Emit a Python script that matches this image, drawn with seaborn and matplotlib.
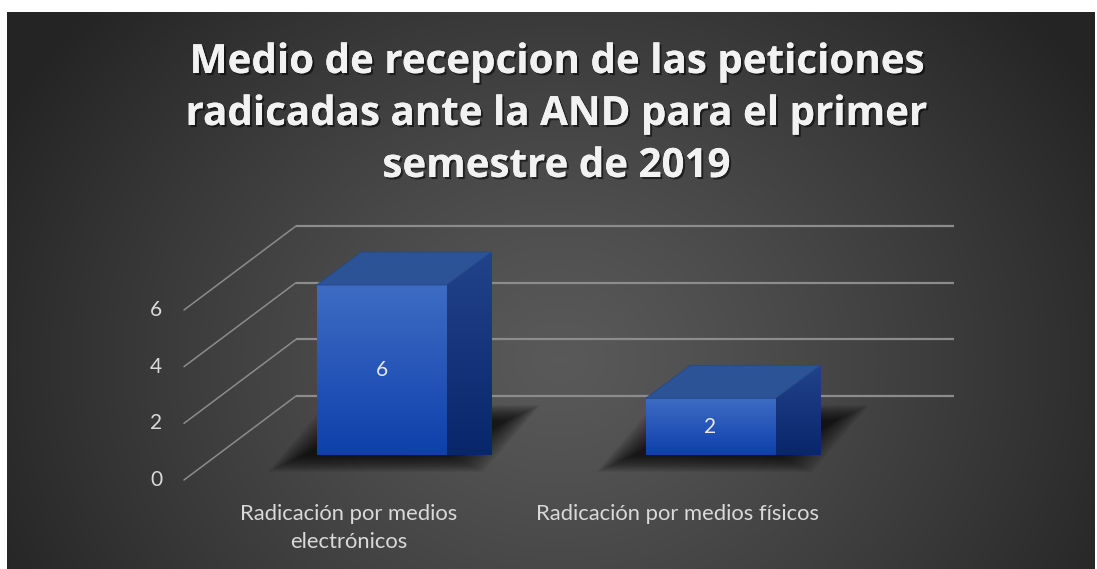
import numpy as np
import pandas as pd
import matplotlib
matplotlib.use("Agg")
import matplotlib.pyplot as plt
import seaborn as sns
from matplotlib.patches import Polygon
import matplotlib.patheffects as pe

# ---------------- data ----------------
categories = ["Radicación por medios\nelectrónicos", "Radicación por medios físicos"]
values = [6, 2]
y_ticks = [0, 2, 4, 6]
title_lines = ["Medio de recepcion de las peticiones",
               "radicadas ante la AND para el primer",
               "semestre de 2019"]

# ---------------- layout constants (pixels) ----------------
W, H = 1097, 569
SX = 329.0          # px per category unit (bar plane)
SY = 170.0 / 6.0    # px per value unit (bar plane)
BAR_DX, BAR_DY = 45 / SX, 33 / SY        # bar depth
FRONT_DX, FRONT_DY = -33 / SX, -25 / SY  # front edge of floor
BACK_DX, BACK_DY = 79 / SX, 59 / SY      # back wall

sns.set_theme(style="dark")
plt.rcParams['font.family'] = ['Open Sans', 'DejaVu Sans']
LABEL_FONT = ['Lato', 'DejaVu Sans']

fig = plt.figure(figsize=(W / 100, H / 100), dpi=100)
fig.patch.set_facecolor('white')

# ---------------- background gradient ----------------
bg = fig.add_axes([0, 0, 1, 1])
bx0, bx1, by0, by1 = 7, 1095, 12, 569
xx, yy = np.meshgrid(np.arange(bx0, bx1) + 0.5, np.arange(by0, by1) + 0.5)
r = np.hypot((xx - 560) / 1.0, (yy - 360) / 0.85)
t = np.clip(r / 620, 0, 1) ** 1.2
v = 0.35 - (0.35 - 0.145) * t
bg.imshow(np.dstack([v, v, v]), extent=(bx0, bx1, by1, by0),
          interpolation='bilinear', aspect='auto', zorder=0)
bg.set_xlim(0, W)
bg.set_ylim(H, 0)
bg.axis('off')

# ---------------- main axes in the bar plane ----------------
ax = fig.add_axes([217 / W, (H - 455) / H, 658 / W, 170 / H])
ax.patch.set_alpha(0)
df = pd.DataFrame({"cat": categories, "val": values})
sns.barplot(data=df, x="cat", y="val", width=130 / SX, color="#2a5bbf",
            ax=ax, zorder=6)

grid_col = "#8c8c8c"
for tv in y_ticks:
    # back wall line
    ax.plot([-0.5 + BACK_DX, 1.5 + BACK_DX], [tv + BACK_DY, tv + BACK_DY],
            color=grid_col, lw=1.6, zorder=1, clip_on=False, solid_capstyle='butt')
    # left wall diagonal
    ax.plot([-0.5 + FRONT_DX, -0.5 + BACK_DX], [tv + FRONT_DY, tv + BACK_DY],
            color=grid_col, lw=1.1, zorder=1, clip_on=False)
    ax.text(-0.5 + FRONT_DX - 28 / SX, tv + FRONT_DY, str(tv), ha='center',
            va='center', fontsize=15, color='#d9d9d9', family=LABEL_FONT)

front_grad = np.linspace(0, 1, 200)[:, None]
def vgrad(c_top, c_bot):
    c_top = np.array(c_top) / 255.0
    c_bot = np.array(c_bot) / 255.0
    g = c_top[None, None, :] * (1 - front_grad[:, :, None]) + c_bot[None, None, :] * front_grad[:, :, None]
    return np.repeat(g, 2, axis=1)

bars = list(ax.patches)
for p, val in zip(bars, values):
    x0 = p.get_x()
    w = p.get_width()
    h = p.get_height()
    x1 = x0 + w
    # floor shadow (blurred footprint)
    for k in range(14, 0, -1):
        e = k * 2.6 / SX
        ey = k * 1.2 / SY
        shadow = Polygon([(x0 - e - 12 / SX, -ey), (x1 + e, -ey),
                          (x1 + BAR_DX + e + 12 / SX, BAR_DY + ey),
                          (x0 + BAR_DX - e, BAR_DY + ey)],
                         closed=True, facecolor='black', edgecolor='none',
                         alpha=0.075, zorder=3, clip_on=False)
        ax.add_patch(shadow)
    # front face gradient
    im = ax.imshow(vgrad((62, 108, 196), (14, 64, 172)), extent=(x0, x1, 0, h),
                   aspect='auto', interpolation='bilinear', zorder=7)
    im.set_clip_path(p)
    # side face
    side = Polygon([(x1, 0), (x1 + BAR_DX, BAR_DY), (x1 + BAR_DX, h + BAR_DY), (x1, h)],
                   closed=True, facecolor='#16357a', edgecolor='#0f2a66', lw=0.6,
                   zorder=6, clip_on=False)
    ax.add_patch(side)
    ims = ax.imshow(vgrad((34, 66, 138), (8, 38, 108)),
                    extent=(x1, x1 + BAR_DX, 0, h + BAR_DY),
                    aspect='auto', interpolation='bilinear', zorder=7, clip_on=False)
    ims.set_clip_path(side)
    # top face
    top = Polygon([(x0, h), (x1, h), (x1 + BAR_DX, h + BAR_DY), (x0 + BAR_DX, h + BAR_DY)],
                  closed=True, facecolor='#2c5396', edgecolor='#24498c', lw=0.6,
                  zorder=8, clip_on=False)
    ax.add_patch(top)
    p.set_edgecolor('#1f4fae')
    p.set_linewidth(0.6)
    # value label
    ax.text(x0 + w / 2, h / 2, str(val), ha='center', va='center', fontsize=15,
            color='#e6e6e6', zorder=10, family=LABEL_FONT)

# category labels at the front edge
for i, cat in enumerate(categories):
    ax.text(i + FRONT_DX, FRONT_DY - 24 / SY, cat, ha='center', va='top',
            fontsize=15.8, color='#d9d9d9', linespacing=1.5,
            family=LABEL_FONT)

ax.set_xlim(-0.5, 1.5)
ax.set_ylim(0, 6)
ax.axis('off')

# ---------------- title ----------------
baselines = [73, 125, 177]
for line, b in zip(title_lines, baselines):
    fig.text(556 / W, 1 - b / H, line, ha='center', va='baseline', fontsize=29,
             fontweight='bold', color='#f2f2f2',
             path_effects=[pe.withSimplePatchShadow(offset=(1.5, -1.5),
                                                    shadow_rgbFace='black', alpha=0.55),
                           pe.Normal()])

fig.savefig("out.png", dpi=100, facecolor=fig.get_facecolor())
